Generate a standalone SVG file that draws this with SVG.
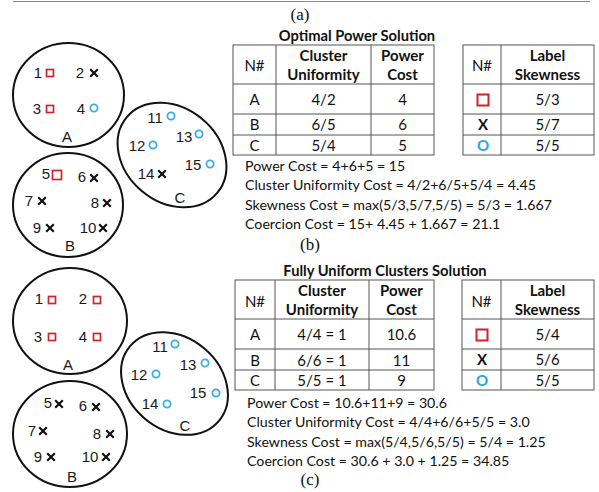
<svg xmlns="http://www.w3.org/2000/svg" width="599" height="492" viewBox="0 0 599 492">
<style>
.bg{fill:#fff}
.ring{fill:none;stroke:#111;stroke-width:2}
.lbl{font-family:"Liberation Sans",Arial,sans-serif;font-size:15px;fill:#1a1a1a;text-anchor:middle}
.t{font-family:Lato,"Liberation Sans",sans-serif;font-size:15px;fill:#111}
.ln{font-size:14.2px}
.ttl{font-size:14.7px}
.tc{text-anchor:middle}
.b{font-weight:bold}
.cap{font-family:"Liberation Serif","Times New Roman",serif;font-size:17px;fill:#111;text-anchor:middle}
.grid{fill:none;stroke:#555;stroke-width:1}
.sq{fill:none;stroke:#d0232b;stroke-width:1.7}
.ci{fill:none;stroke:#3aaee0;stroke-width:1.8}
.x{fill:none;stroke:#111;stroke-width:2.2;stroke-linecap:butt}
.rule{stroke:#888;stroke-width:1.2}
.blue{fill:#2aa6e0}
</style>
<defs>
<rect id="sq" x="-3.5" y="-3.5" width="7" height="7" class="sq"/>
<rect id="sqL" x="-4.5" y="-4.5" width="9" height="9" class="sq"/>
<circle id="ci" r="3.6" class="ci"/>
<path id="x" d="M-3.8,-3.8L3.8,3.8M3.8,-3.8L-3.8,3.8" class="x"/>
</defs>
<rect class="bg" width="599" height="492"/>
<line class="rule" x1="13" y1="1.5" x2="590" y2="1.5"/>
<text class="cap" x="300" y="20">(a)</text>

<!-- (b) clusters -->
<g id="b-cluster-A">
<ellipse class="ring" cx="68.5" cy="95" rx="55.5" ry="52"/>
<text class="lbl" x="38" y="78">1</text><use href="#sq" x="50" y="73"/>
<text class="lbl" x="80" y="78">2</text><use href="#x" x="94" y="73"/>
<text class="lbl" x="37" y="114">3</text><use href="#sq" x="50" y="109"/>
<text class="lbl" x="81" y="114">4</text><use href="#ci" x="94" y="108"/>
<text class="lbl" x="67" y="142">A</text>
</g>
<g id="b-cluster-B">
<ellipse class="ring" cx="68" cy="205" rx="55" ry="52"/>
<text class="lbl" x="46" y="179">5</text><use href="#sqL" x="57" y="175"/>
<text class="lbl" x="82" y="182">6</text><use href="#x" x="94" y="178"/>
<text class="lbl" x="29" y="206">7</text><use href="#x" x="42" y="201"/>
<text class="lbl" x="95" y="208">8</text><use href="#x" x="107" y="203"/>
<text class="lbl" x="37" y="233">9</text><use href="#x" x="50" y="228"/>
<text class="lbl" x="88" y="233">10</text><use href="#x" x="103" y="228"/>
<text class="lbl" x="70" y="251">B</text>
</g>
<g id="b-cluster-C">
<ellipse class="ring" cx="0" cy="0" rx="59" ry="47" transform="translate(172 155) rotate(40)"/>
<text class="lbl" x="155" y="123">11</text><use href="#ci" x="171" y="116"/>
<text class="lbl" x="184" y="142">13</text><use href="#ci" x="199" y="134"/>
<text class="lbl" x="137" y="151">12</text><use href="#ci" x="153" y="145"/>
<text class="lbl" x="193" y="170">15</text><use href="#ci" x="210" y="164"/>
<text class="lbl" x="146" y="179">14</text><use href="#x" x="162" y="174"/>
<text class="lbl" x="180" y="203">C</text>
</g>

<!-- (b) tables -->
<g id="b-title"><text class="t ttl b tc" x="357" y="40.5">Optimal Power Solution</text></g>
<g id="b-table-power">
<rect class="grid" x="233" y="45" width="201" height="110"/>
<path class="grid" d="M276,45V155M371,45V155M233,84H434M233,114H434M233,135H434"/>
<text class="t tc" x="254.5" y="70.5">N#</text>
<text class="t b tc" x="323.5" y="60.5">Cluster</text>
<text class="t b tc" x="323.5" y="80">Uniformity</text>
<text class="t b tc" x="402.5" y="60.5">Power</text>
<text class="t b tc" x="402.5" y="80">Cost</text>
<text class="t tc" x="254.5" y="105">A</text><text class="t tc" x="323.5" y="105">4/2</text><text class="t tc" x="402.5" y="105">4</text>
<text class="t tc" x="254.5" y="130">B</text><text class="t tc" x="323.5" y="130">6/5</text><text class="t tc" x="402.5" y="130">6</text>
<text class="t tc" x="254.5" y="150.5">C</text><text class="t tc" x="323.5" y="150.5">5/4</text><text class="t tc" x="402.5" y="150.5">5</text>
</g>
<g id="b-table-skew">
<rect class="grid" x="463" y="45" width="131" height="110"/>
<path class="grid" d="M501,45V155M463,84H594M463,114H594M463,135H594"/>
<text class="t tc" x="482" y="70.5">N#</text>
<text class="t b tc" x="547.5" y="60.5">Label</text>
<text class="t b tc" x="547.5" y="80">Skewness</text>
<rect x="477.5" y="94.5" width="11" height="11" fill="none" stroke="#d0232b" stroke-width="2"/>
<text class="t tc" x="547.5" y="105">5/3</text>
<text class="t b tc" x="483" y="130">X</text><text class="t tc" x="547.5" y="130">5/7</text>
<text class="t b tc blue" x="483" y="150.5">O</text><text class="t tc" x="547.5" y="150.5">5/5</text>
</g>
<g id="b-costs">
<text class="t ln" x="245" y="170.5">Power Cost = 4+6+5 = 15</text>
<text class="t ln" x="245" y="190">Cluster Uniformity Cost = 4/2+6/5+5/4 = 4.45</text>
<text class="t ln" x="245" y="209.5">Skewness Cost = max(5/3,5/7,5/5) = 5/3 = 1.667</text>
<text class="t ln" x="245" y="229">Coercion Cost = 15+ 4.45 + 1.667 = 21.1</text>
</g>
<text class="cap" x="310" y="250">(b)</text>

<!-- (c) clusters -->
<g id="c-cluster-A">
<ellipse class="ring" cx="70" cy="321" rx="57" ry="53"/>
<text class="lbl" x="39" y="304">1</text><use href="#sq" x="52" y="300"/>
<text class="lbl" x="83" y="304">2</text><use href="#sq" x="97" y="300"/>
<text class="lbl" x="38" y="342">3</text><use href="#sq" x="52" y="337"/>
<text class="lbl" x="83" y="342">4</text><use href="#sq" x="97" y="337"/>
<text class="lbl" x="68" y="370">A</text>
</g>
<g id="c-cluster-B">
<ellipse class="ring" cx="70" cy="434" rx="57" ry="53"/>
<text class="lbl" x="48" y="408">5</text><use href="#x" x="59" y="404"/>
<text class="lbl" x="83" y="411">6</text><use href="#x" x="96" y="407"/>
<text class="lbl" x="32" y="436">7</text><use href="#x" x="43" y="431"/>
<text class="lbl" x="97" y="439">8</text><use href="#x" x="110" y="434"/>
<text class="lbl" x="38" y="462">9</text><use href="#x" x="51" y="457"/>
<text class="lbl" x="90" y="462">10</text><use href="#x" x="106" y="457"/>
<text class="lbl" x="72" y="482">B</text>
</g>
<g id="c-cluster-C">
<ellipse class="ring" cx="0" cy="0" rx="58" ry="46" transform="translate(174.5 383.5) rotate(40)"/>
<text class="lbl" x="160" y="352">11</text><use href="#ci" x="175" y="344"/>
<text class="lbl" x="188" y="370">13</text><use href="#ci" x="205" y="363"/>
<text class="lbl" x="139" y="380">12</text><use href="#ci" x="156" y="374"/>
<text class="lbl" x="198" y="398">15</text><use href="#ci" x="216" y="393"/>
<text class="lbl" x="150" y="409">14</text><use href="#ci" x="167" y="404"/>
<text class="lbl" x="185" y="431">C</text>
</g>

<!-- (c) tables -->
<g id="c-title"><text class="t ttl b tc" x="385" y="275.5">Fully Uniform Clusters Solution</text></g>
<g id="c-table-power">
<rect class="grid" x="235" y="280" width="199" height="110"/>
<path class="grid" d="M275,280V390M369,280V390M235,319H434M235,349H434M235,370H434"/>
<text class="t tc" x="255" y="306.5">N#</text>
<text class="t b tc" x="322" y="295.5">Cluster</text>
<text class="t b tc" x="322" y="315">Uniformity</text>
<text class="t b tc" x="401.5" y="295.5">Power</text>
<text class="t b tc" x="401.5" y="315">Cost</text>
<text class="t tc" x="255" y="340">A</text><text class="t tc" x="322" y="340">4/4 = 1</text><text class="t tc" x="401.5" y="340">10.6</text>
<text class="t tc" x="255" y="365.5">B</text><text class="t tc" x="322" y="365.5">6/6 = 1</text><text class="t tc" x="401.5" y="365.5">11</text>
<text class="t tc" x="255" y="385.5">C</text><text class="t tc" x="322" y="385.5">5/5 = 1</text><text class="t tc" x="401.5" y="385.5">9</text>
</g>
<g id="c-table-skew">
<rect class="grid" x="462" y="280" width="132" height="110"/>
<path class="grid" d="M501,280V390M462,319H594M462,349H594M462,370H594"/>
<text class="t tc" x="481.5" y="306.5">N#</text>
<text class="t b tc" x="547.5" y="295.5">Label</text>
<text class="t b tc" x="547.5" y="315">Skewness</text>
<rect x="476.5" y="329.5" width="11" height="11" fill="none" stroke="#d0232b" stroke-width="2"/>
<text class="t tc" x="547.5" y="340">5/4</text>
<text class="t b tc" x="482" y="364.5">X</text><text class="t tc" x="547.5" y="364.5">5/6</text>
<text class="t b tc blue" x="482" y="385.5">O</text><text class="t tc" x="547.5" y="385.5">5/5</text>
</g>
<g id="c-costs">
<text class="t ln" x="247" y="407.5">Power Cost = 10.6+11+9 = 30.6</text>
<text class="t ln" x="247" y="427">Cluster Uniformity Cost = 4/4+6/6+5/5 = 3.0</text>
<text class="t ln" x="247" y="446.5">Skewness Cost = max(5/4,5/6,5/5) = 5/4 = 1.25</text>
<text class="t ln" x="247" y="466">Coercion Cost = 30.6 + 3.0 + 1.25 = 34.85</text>
</g>
<text class="cap" x="310" y="485">(c)</text>
</svg>
